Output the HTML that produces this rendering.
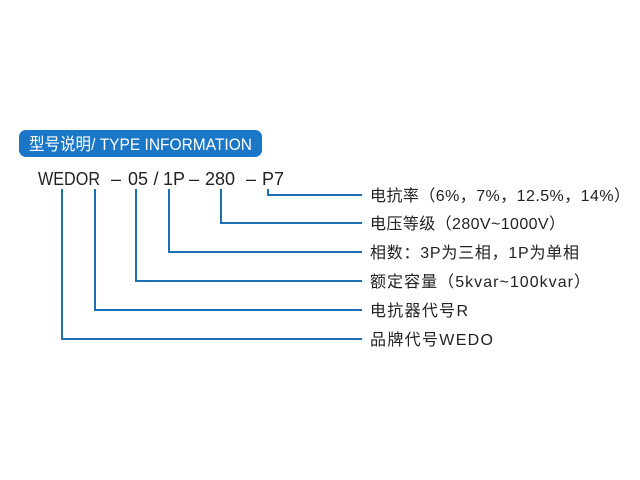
<!DOCTYPE html>
<html><head><meta charset="utf-8"><style>
html,body{margin:0;padding:0;background:#fff;width:640px;height:480px;overflow:hidden}
</style></head><body>
<svg width="640" height="480" xmlns="http://www.w3.org/2000/svg" style="display:block">
<rect x="19" y="130" width="243" height="27" rx="7" fill="#1a76c6"/>
<text x="29" y="150" font-family="Liberation Sans, Noto Sans CJK SC, sans-serif" font-size="17" fill="#fff" textLength="223" lengthAdjust="spacingAndGlyphs">型号说明/ TYPE INFORMATION</text>
<g font-family="Liberation Sans, sans-serif" font-size="18" fill="#222">
<text x="38" y="185" textLength="62" lengthAdjust="spacingAndGlyphs">WEDOR</text>
<text x="116" y="185" text-anchor="middle">–</text>
<text x="128" y="185">05</text>
<text x="156" y="185" text-anchor="middle">/</text>
<text x="163" y="185">1P</text>
<text x="194" y="185" text-anchor="middle">–</text>
<text x="205" y="185">280</text>
<text x="251" y="185" text-anchor="middle">–</text>
<text x="262" y="185">P7</text>
</g>
<g fill="none" stroke="#1f6fb5" stroke-width="2">
<polyline points="268,189 268,195 362,195"/>
<polyline points="221,189 221,223 362,223"/>
<polyline points="169,189 169,252 362,252"/>
<polyline points="136,189 136,281 362,281"/>
<polyline points="95,189 95,310 362,310"/>
<polyline points="62,189 62,339 362,339"/>
</g>
<g font-family="Liberation Sans, Noto Sans CJK SC, sans-serif" font-size="16" fill="#222">
<text x="370" y="201" textLength="260" lengthAdjust="spacing">电抗率（6%，7%，12.5%，14%）</text>
<text x="370" y="229" textLength="195" lengthAdjust="spacing">电压等级（280V~1000V）</text>
<text x="370" y="258" textLength="209" lengthAdjust="spacing">相数：3P为三相，1P为单相</text>
<text x="370" y="287" textLength="220" lengthAdjust="spacing">额定容量（5kvar~100kvar）</text>
<text x="370" y="316" textLength="98" lengthAdjust="spacing">电抗器代号R</text>
<text x="370" y="345" textLength="123" lengthAdjust="spacing">品牌代号WEDO</text>
</g>
</svg>
</body></html>
